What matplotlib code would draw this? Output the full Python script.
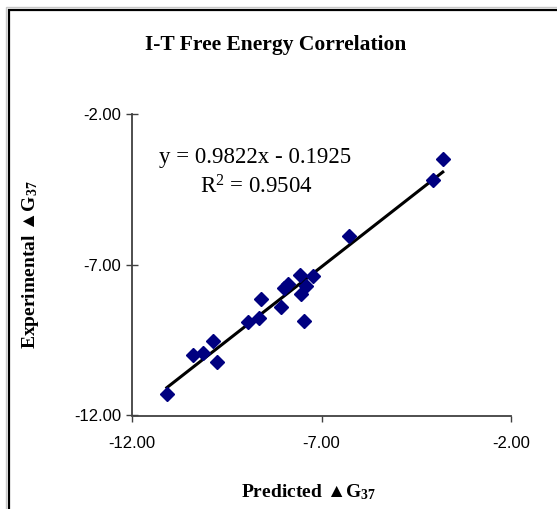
import numpy as np
import matplotlib
matplotlib.use("Agg")
import matplotlib.pyplot as plt
from matplotlib.patches import Rectangle

# Data (kcal/mol)
predicted = [-11.08, -10.40, -10.13, -9.87, -9.77, -8.93, -8.65, -8.60, -8.08,
             -7.99, -7.88, -7.57, -7.55, -7.42, -7.45, -7.22, -6.28, -4.05, -3.80]
experimental = [-11.29, -10.00, -9.92, -9.54, -10.22, -8.89, -8.78, -8.15, -8.41,
                -7.78, -7.64, -7.34, -7.97, -7.69, -8.88, -7.36, -6.04, -4.19, -3.50]
slope = 0.9822
intercept = -0.1925
r_squared = 0.9504
ticks = [-12.0, -7.0, -2.0]

plt.rcParams['mathtext.default'] = 'regular'
serif = ['Liberation Serif', 'DejaVu Sans']
sans = ['Liberation Sans', 'DejaVu Sans']

fig = plt.figure(figsize=(5.57, 5.09), dpi=100)
fig.patch.set_facecolor('white')

# chart area border (right and bottom edges fall outside the image)
W, H = 557.0, 509.0
fig.patches.append(Rectangle((6 / W, -0.1), 1.2, 1.1 - 7.5 / H, transform=fig.transFigure,
                             fill=False, edgecolor='#c8c8c8', linewidth=1.0))
fig.patches.append(Rectangle((8.5 / W, -0.1), 1.2, 1.1 - 10 / H, transform=fig.transFigure,
                             fill=False, edgecolor='black', linewidth=1.6))

ax = fig.add_axes([132 / W, 93.5 / H, 379 / W, 301.5 / H])

ax.plot(predicted, experimental, linestyle='none', marker='D', markersize=7.5,
        color='#000080', markeredgecolor='#000080', zorder=3)

# trend line over the data range
xs = np.array([min(predicted), max(predicted)])
ax.plot(xs, slope * xs + intercept, color='black', linewidth=2.2, zorder=2)

ax.set_xlim(-12, -2)
ax.set_ylim(-12, -2)
ax.set_xticks(ticks)
ax.set_yticks(ticks)
ax.set_xticklabels([f"{t:.2f}" for t in ticks], fontfamily=sans, fontsize=12)
ax.set_yticklabels([f"{t:.2f}" for t in ticks], fontfamily=sans, fontsize=12)

for side in ['top', 'right']:
    ax.spines[side].set_visible(False)
for side in ['left', 'bottom']:
    ax.spines[side].set_color('#404040')
    ax.spines[side].set_linewidth(1.3)
ax.tick_params(axis='y', direction='inout', length=8, width=1.0, color='#404040', pad=4)
ax.tick_params(axis='x', direction='out', length=4, width=1.0, color='#404040', pad=11)

# trendline equation
fig.text(255 / W, 1 - 158 / H, f"y = {slope}x - {abs(intercept)}", ha='center', va='center',
         fontfamily=serif, fontsize=16.5)
fig.text(256 / W, 1 - 187 / H, "R$^2$ = " + f"{r_squared}", ha='center', va='center',
         fontfamily=serif, fontsize=16.5)

fig.text(276 / W, 1 - 45 / H, "I-T Free Energy Correlation", ha='center', va='center',
         fontfamily=serif, fontsize=15.5, fontweight='bold')

fig.text(308 / W, 1 - 492 / H, "Predicted \u25B2G$_{37}$", ha='center', va='center',
         fontfamily=serif, fontsize=14, fontweight='bold')
fig.text(31 / W, 1 - 265 / H, "Experimental \u25B2G$_{37}$", ha='center', va='center',
         rotation=90, fontfamily=serif, fontsize=14, fontweight='bold')

fig.savefig('out.png', dpi=100, facecolor='white')
